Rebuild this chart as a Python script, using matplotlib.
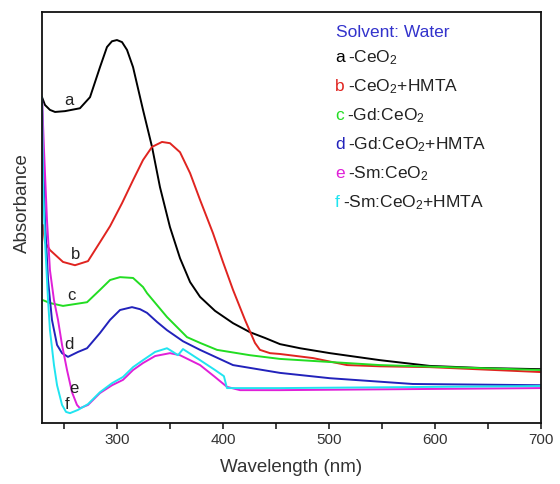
import matplotlib
matplotlib.use("Agg")
import matplotlib.pyplot as plt
from matplotlib.ticker import MultipleLocator

plt.rcParams['font.family'] = ['Liberation Sans', 'DejaVu Sans']
plt.rcParams['mathtext.default'] = 'regular'

# ---- data (wavelength nm, absorbance a.u.) ----
a_x = [229.3, 232.1, 236.8, 241.6, 251.0, 265.1, 274.6, 284.0, 290.6, 295.3, 300.0, 304.8, 309.5,
       315.2, 324.6, 333.1, 340.6, 350.0, 359.5, 369.0, 378.4, 392.5, 409.5, 425.5, 439.7, 453.8,
       472.7, 501.0, 548.0, 595.0, 642.5, 700.0]
a_y = [0.793, 0.774, 0.762, 0.757, 0.759, 0.766, 0.793, 0.866, 0.915, 0.929, 0.932, 0.927, 0.908,
       0.866, 0.762, 0.672, 0.574, 0.477, 0.401, 0.343, 0.307, 0.273, 0.243, 0.221, 0.207, 0.192,
       0.182, 0.170, 0.153, 0.139, 0.134, 0.131]

b_x = [230.2, 232.1, 236.8, 249.1, 260.4, 272.7, 284.0, 293.5, 304.8, 315.2, 324.6, 333.1, 342.5,
       350.0, 359.5, 369.0, 378.4, 390.6, 400.0, 409.5, 420.8, 430.2, 434.9, 444.4, 453.8, 485.0,
       517.0, 548.0, 595.0, 700.0]
b_y = [0.482, 0.440, 0.421, 0.392, 0.384, 0.394, 0.440, 0.479, 0.535, 0.591, 0.640, 0.672, 0.684,
       0.681, 0.659, 0.608, 0.543, 0.462, 0.392, 0.324, 0.251, 0.195, 0.178, 0.170, 0.168, 0.158,
       0.141, 0.138, 0.136, 0.124]

c_x = [230.2, 236.8, 249.1, 271.8, 284.0, 293.5, 302.9, 315.2, 324.6, 328.4, 337.8, 347.2, 366.1,
       378.4, 394.4, 425.5, 453.8, 548.0, 700.0]
c_y = [0.299, 0.292, 0.285, 0.294, 0.324, 0.348, 0.355, 0.353, 0.331, 0.316, 0.287, 0.258, 0.209,
       0.195, 0.178, 0.165, 0.156, 0.141, 0.129]

d_x = [229.3, 230.2, 232.1, 235.0, 238.7, 243.5, 248.2, 253.8, 263.3, 271.8, 284.0, 293.5, 302.9,
       314.2, 321.8, 328.4, 337.8, 347.2, 362.3, 378.4, 409.5, 453.8, 501.0, 579.0, 700.0]
d_y = [0.793, 0.664, 0.494, 0.348, 0.251, 0.190, 0.170, 0.161, 0.173, 0.182, 0.219, 0.251, 0.275,
       0.282, 0.277, 0.268, 0.246, 0.226, 0.199, 0.178, 0.141, 0.122, 0.109, 0.095, 0.092]

e_x = [229.3, 231.2, 234.0, 236.8, 240.6, 244.4, 248.2, 252.9, 257.6, 262.3, 265.1, 272.7, 284.0,
       295.4, 305.7, 315.2, 324.6, 336.0, 350.0, 359.5, 378.4, 392.5, 403.8, 416.1, 453.8, 700.0]
e_y = [0.793, 0.664, 0.494, 0.372, 0.299, 0.251, 0.190, 0.129, 0.075, 0.044, 0.036, 0.044, 0.073,
       0.092, 0.105, 0.129, 0.146, 0.163, 0.170, 0.165, 0.141, 0.112, 0.088, 0.080, 0.080, 0.085]

f_x = [229.3, 230.2, 232.1, 235.0, 236.8, 240.6, 243.5, 248.2, 252.0, 255.7, 263.3, 272.7, 284.0,
       295.4, 305.7, 315.2, 324.6, 336.0, 347.2, 352.9, 357.6, 362.3, 378.4, 392.5, 400.9, 403.8,
       416.1, 453.8, 700.0]
f_y = [0.793, 0.591, 0.445, 0.299, 0.226, 0.141, 0.092, 0.044, 0.027, 0.024, 0.032, 0.046, 0.075,
       0.097, 0.112, 0.136, 0.153, 0.173, 0.182, 0.173, 0.165, 0.180, 0.153, 0.129, 0.114, 0.085,
       0.085, 0.085, 0.090]

letters = ['a', 'b', 'c', 'd', 'e', 'f']
names = ['-CeO$_2$', '-CeO$_2$+HMTA', '-Gd:CeO$_2$', '-Gd:CeO$_2$+HMTA', '-Sm:CeO$_2$', '-Sm:CeO$_2$+HMTA']
colors = ['#000000', '#e02420', '#22dd22', '#2222bb', '#e020d8', '#20e4f0']
series = [(a_x, a_y), (b_x, b_y), (c_x, c_y), (d_x, d_y), (e_x, e_y), (f_x, f_y)]
label_pos = [(255, 0.784), (261, 0.411), (257, 0.311), (255, 0.190), (259, 0.085), (253, 0.046)]

fig = plt.figure(figsize=(5.6, 4.84), dpi=100)
ax = fig.add_axes([0.075, 0.126, 0.891, 0.849])

for i in range(6):
    x, y = series[i]
    ax.plot(x, y, color=colors[i], lw=1.4, solid_joinstyle='round', solid_capstyle='round')

for L, (lx, ly) in zip(letters, label_pos):
    ax.text(lx, ly, L, fontsize=12, color='#222222', ha='center', va='center')

ax.set_xlim(229.3, 700)
ax.set_ylim(0, 1)
ax.xaxis.set_major_locator(MultipleLocator(100))
ax.xaxis.set_minor_locator(MultipleLocator(50))
ax.set_yticks([])
ax.tick_params(axis='x', which='both', direction='out', width=1.2, colors='#222222',
               labelsize=11, labelcolor='#333333', length=4)
for s in ax.spines.values():
    s.set_linewidth(1.3)
    s.set_color('#111111')

ax.set_xlabel('Wavelength (nm)', fontsize=13.5, color='#333333', labelpad=8)
ax.set_ylabel('Absorbance', fontsize=13.5, color='#333333')
ax.yaxis.set_label_coords(-0.022, 0.535)

# legend text
W, H = 560.0, 484.0
fig.text(336 / W, 1 - 33 / H, 'Solvent: Water', color='#3333cc', fontsize=12.5, va='center', ha='left')
ys = [62, 91, 120, 149, 178, 207]
renderer = fig.canvas.get_renderer()
for L, nm, c, yy in zip(letters, names, colors, ys):
    t = fig.text(335 / W, 1 - yy / H, L, color=c, fontsize=12.5, va='baseline', ha='left')
    bb = t.get_window_extent(renderer=renderer)
    fig.text((bb.x1 + 3) / W, 1 - yy / H, nm, color='#222222', fontsize=12.5,
             va='baseline', ha='left')

fig.savefig('out.png', dpi=100)
